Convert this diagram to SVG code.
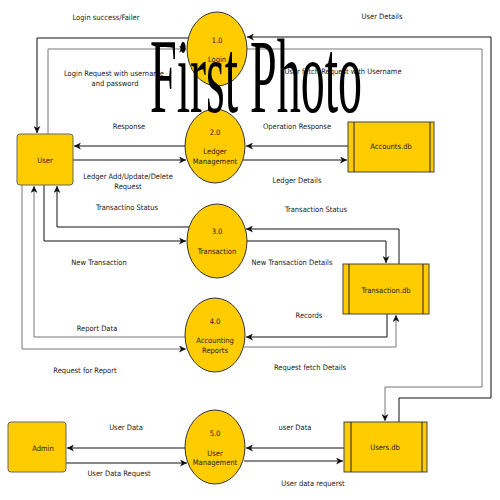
<svg xmlns="http://www.w3.org/2000/svg" width="500" height="500" viewBox="0 0 500 500">
<defs>
<style>
.lbl{font-family:"DejaVu Sans Condensed","DejaVu Sans",sans-serif;font-size:7.5px;fill:#222;text-anchor:middle;dominant-baseline:central}
.proc{fill:#ffcc00;stroke:#333;stroke-width:1}
.ent{fill:#ffcc00;stroke:#666;stroke-width:1}
.store{fill:#ffcc00;stroke:#444;stroke-width:1}
.inner{stroke:#222;stroke-width:1}
.c{fill:none;stroke:#111;stroke-width:1;marker-end:url(#arr)}
.g{fill:none;stroke:#777;stroke-width:1;marker-end:url(#arr)}
.wm{font-family:"Liberation Serif","Times New Roman",serif;font-size:106px;fill:#000}
</style>
<marker id="arr" markerWidth="8" markerHeight="7" refX="7" refY="3.5" orient="auto" markerUnits="userSpaceOnUse">
<path d="M0,0 L7,3.5 L0,7 L2,3.5 z" fill="#111"/>
</marker>
</defs>
<rect width="500" height="500" fill="#fff"/>
<g id="connectors">
<path class="c" d="M188,38 L37,38 L37,133"/>
<path class="g" d="M48,134 L48,49 L186,49"/>
<path class="c" d="M399,422 L399,398 L491,398 L491,37 L247,37"/>
<path class="g" d="M247,49 L482,49 L482,387 L385,387 L385,421"/>
<path class="c" d="M185,146 L74,146"/>
<path class="c" d="M73,160 L186,160"/>
<path class="c" d="M348,146 L246,146"/>
<path class="c" d="M243,160 L347,160"/>
<path class="c" d="M189,227 L57,227 L57,186"/>
<path class="c" d="M44,185 L44,241 L186,241"/>
<path class="c" d="M399,264 L399,229 L246,229"/>
<path class="c" d="M247,241 L386,241 L386,263"/>
<path class="c" d="M387,314 L387,337 L246,337"/>
<path class="g" d="M244,347 L396,347 L396,315"/>
<path class="g" d="M185,337 L34,337 L34,186"/>
<path class="g" d="M22,185 L22,349 L186,349"/>
<path class="c" d="M185,448 L67,448"/>
<path class="c" d="M66,463 L187,463"/>
<path class="c" d="M344,448 L246,448"/>
<path class="c" d="M244,461 L343,461"/>
</g>
<g id="labels">
<text class="lbl" x="106" y="17">Login success/Failer</text>
<text class="lbl" x="114" y="73">Login Request with username</text>
<text class="lbl" x="115" y="83">and password</text>
<text class="lbl" x="382" y="16">User Details</text>
<text class="lbl" x="343" y="71">User fetch Request with Username</text>
<text class="lbl" x="129" y="126">Response</text>
<text class="lbl" x="128" y="176">Ledger Add/Update/Delete</text>
<text class="lbl" x="128" y="186">Request</text>
<text class="lbl" x="297" y="126">Operation Response</text>
<text class="lbl" x="297" y="180">Ledger Details</text>
<text class="lbl" x="127" y="207">Transactino Status</text>
<text class="lbl" x="316" y="209">Transaction Status</text>
<text class="lbl" x="99" y="262">New Transaction</text>
<text class="lbl" x="292" y="262">New Transaction Details</text>
<text class="lbl" x="309" y="315">Records</text>
<text class="lbl" x="97" y="328">Report Data</text>
<text class="lbl" x="85" y="370">Request for Report</text>
<text class="lbl" x="310" y="367">Request fetch Details</text>
<text class="lbl" x="126" y="427">User Data</text>
<text class="lbl" x="119" y="473">User Data Request</text>
<text class="lbl" x="295" y="427">user Data</text>
<text class="lbl" x="313" y="483">User data requerst</text>
</g>
<g id="p1"><ellipse class="proc" cx="217" cy="49" rx="30" ry="37"/><text class="lbl" x="217" y="40">1.0</text><text class="lbl" x="217" y="59">Login</text></g>
<g id="p2"><ellipse class="proc" cx="215" cy="146" rx="30" ry="37"/><text class="lbl" x="215" y="132">2.0</text><text class="lbl" x="215" y="151">Ledger</text><text class="lbl" x="215" y="161">Management</text></g>
<g id="p3"><ellipse class="proc" cx="217" cy="241" rx="30" ry="37"/><text class="lbl" x="217" y="231">3.0</text><text class="lbl" x="217" y="251">Transaction</text></g>
<g id="p4"><ellipse class="proc" cx="215" cy="335" rx="30" ry="37"/><text class="lbl" x="215" y="321">4.0</text><text class="lbl" x="215" y="340">Accounting</text><text class="lbl" x="215" y="350">Reports</text></g>
<g id="p5"><ellipse class="proc" cx="215" cy="447" rx="30" ry="37"/><text class="lbl" x="215" y="433">5.0</text><text class="lbl" x="215" y="453">User</text><text class="lbl" x="215" y="462">Management</text></g>
<g id="user"><rect class="ent" x="17" y="134" width="56" height="51" rx="3"/><text class="lbl" x="45" y="160">User</text></g>
<g id="admin"><rect class="ent" x="8" y="422" width="58" height="50" rx="3"/><text class="lbl" x="43" y="448">Admin</text></g>
<g id="accounts"><rect class="store" x="348" y="122" width="86" height="50"/><line class="inner" x1="354" y1="122" x2="354" y2="172"/><line class="inner" x1="430" y1="122" x2="430" y2="172"/><text class="lbl" x="391" y="146">Accounts.db</text></g>
<g id="transactiondb"><rect class="store" x="343" y="264" width="86" height="50"/><line class="inner" x1="349" y1="264" x2="349" y2="314"/><line class="inner" x1="423" y1="264" x2="423" y2="314"/><text class="lbl" x="386" y="290">Transaction.db</text></g>
<g id="usersdb"><rect class="store" x="344" y="422" width="83" height="50"/><line class="inner" x1="351" y1="422" x2="351" y2="472"/><line class="inner" x1="422" y1="422" x2="422" y2="472"/><text class="lbl" x="385" y="447">Users.db</text></g>
<text class="wm" x="150" y="112" textLength="212" lengthAdjust="spacingAndGlyphs">First Photo</text>
</svg>
